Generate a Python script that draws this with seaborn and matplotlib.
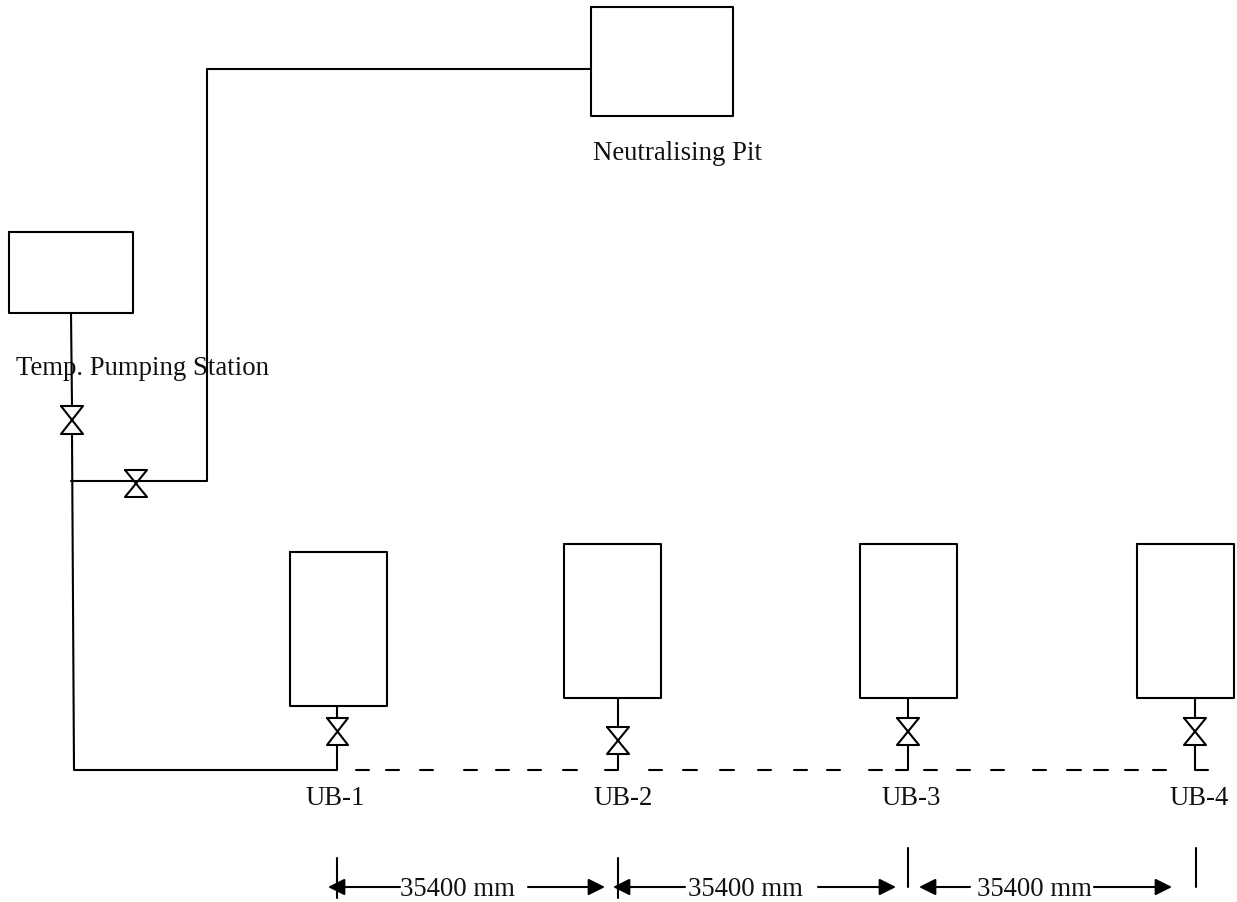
#!/usr/bin/python3
import seaborn as sns
import pandas as pd
import matplotlib.pyplot as plt

sns.set_theme(style="white")
plt.rcParams['font.family'] = ['Liberation Serif', 'DejaVu Serif']

boxes = [(591, 733, 7, 116), (9, 133, 232, 313), (290, 387, 552, 706),
         (564, 661, 544, 698), (860, 957, 544, 698), (1137, 1234, 544, 698)]

pipes = [
  [(591, 69), (207, 69), (207, 481), (71, 481)],
  [(71, 313), (72, 406)],
  [(72, 434), (74, 770), (337, 770), (337, 745)],
  [(337, 706), (337, 718)],
  [(618, 698), (618, 727)],
  [(618, 754), (618, 770), (605, 770)],
  [(908, 698), (908, 718)],
  [(908, 745), (908, 770), (896, 770)],
  [(1195, 698), (1195, 718)],
  [(1195, 745), (1195, 770), (1208, 770)],
]

dash_y = 770
dash_x = [(356, 369), (386, 399), (420, 433), (464, 477), (496, 509), (528, 541), (563, 577),
          (649, 662), (683, 697), (720, 734), (758, 771), (794, 807), (827, 840), (869, 882),
          (924, 937), (957, 970), (991, 1004), (1033, 1046), (1067, 1081), (1094, 1108),
          (1125, 1138), (1153, 1166)]

# valve: x left, x right, y top, y bottom
valves = [(61, 83, 406, 434), (125, 147, 470, 497), (327, 348, 718, 745),
          (607, 629, 727, 754), (897, 919, 718, 745), (1184, 1206, 718, 745)]

dim_ticks = [(337, 858, 898), (618, 858, 898), (908, 848, 887), (1196, 848, 887)]

arrow_y = 887
# shaft start, arrow tip
arrows = [(400, 328), (528, 605), (685, 613), (818, 896), (970, 919), (1094, 1172)]

# text, x left, baseline y
labels = [("Neutralising Pit", 593, 160), ("Temp. Pumping Station", 16, 375),
          ("UB-1", 305, 805), ("UB-2", 593, 805), ("UB-3", 881, 805), ("UB-4", 1169, 805),
          ("35400 mm", 400, 896), ("35400 mm", 688, 896), ("35400 mm", 977, 896)]


def segments():
  paths = list(pipes)
  for l, r, t, b in boxes:
    paths.append([(l, t), (r, t), (r, b), (l, b), (l, t)])
  for l, r, t, b in valves:
    paths.append([(l, t), (r, t), (l, b), (r, b), (l, t)])
  for a, b in dash_x:
    paths.append([(a, dash_y), (b, dash_y)])
  for x, t, b in dim_ticks:
    paths.append([(x, t), (x, b)])
  rows = []
  for i, path in enumerate(paths):
    for x, y in path:
      rows.append({'seg': i, 'x': x, 'y': y})
  return pd.DataFrame(rows)


def main():
  fig = plt.figure(figsize=(12.37, 9.02), dpi=100)
  ax = fig.add_axes([0, 0, 1, 1])
  df = segments()
  sns.lineplot(data=df, x='x', y='y', units='seg', estimator=None, sort=False,
               color='black', linewidth=1.5, ax=ax, legend=False)
  for start, tip in arrows:
    ax.annotate('', xy=(tip, arrow_y), xytext=(start, arrow_y),
                arrowprops=dict(arrowstyle='-|>,head_length=0.72,head_width=0.36', color='black',
                                lw=1.5, shrinkA=0, shrinkB=0, mutation_scale=14))
  for text, x, y in labels:
    ax.text(x, y, text, fontsize=19.3, color='#111111', ha='left', va='baseline', zorder=1)
  ax.set_xlim(0, 1237)
  ax.set_ylim(902, 0)
  ax.axis('off')
  fig.savefig('out.png', dpi=100, facecolor='white')


if __name__ == "__main__":
  main()
